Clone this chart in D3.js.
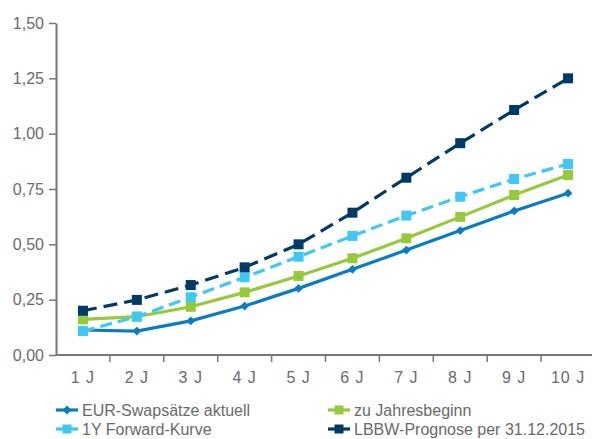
<!DOCTYPE html>
<html><head><meta charset="utf-8">
<script src="https://cdn.jsdelivr.net/npm/d3@7"></script>
<style>
html,body{margin:0;padding:0;background:#fff;}
svg{display:block;font-family:"Liberation Sans","Noto Sans",Arial,sans-serif;}
</style></head>
<body><svg id="c" width="592" height="439"></svg>
<script>
const categories = ["1 J","2 J","3 J","4 J","5 J","6 J","7 J","8 J","9 J","10 J"];
const eurSwap   = [0.113,0.108,0.154,0.221,0.301,0.387,0.474,0.562,0.651,0.731];
const jahresBeg = [0.161,0.173,0.218,0.283,0.357,0.437,0.527,0.624,0.723,0.813];
const forward1Y = [0.108,0.173,0.261,0.351,0.444,0.538,0.630,0.715,0.795,0.863];
const lbbw      = [0.200,0.249,0.316,0.396,0.500,0.643,0.801,0.957,1.107,1.250];
const yTicks = [0,0.25,0.5,0.75,1,1.25,1.5];

const series = [
  {name:"EUR-Swapsätze aktuell", values:eurSwap, color:"#0a7cc1", dash:null, marker:"diamond"},
  {name:"zu Jahresbeginn", values:jahresBeg, color:"#97c93d", dash:null, marker:"square"},
  {name:"1Y Forward-Kurve", values:forward1Y, color:"#3fc8f4", dash:"12,6", marker:"square"},
  {name:"LBBW-Prognose per 31.12.2015", values:lbbw, color:"#003b68", dash:"14,7", marker:"square"}
];

const svg = d3.select("#c");
const x = d3.scaleBand().domain(categories).range([56, 595]);
const y = d3.scaleLinear().domain([0,1.5]).range([355, 23]);
const fmt = d3.format(".2f");
const textColor = "#6a6a6a";
const fs = "16px";

// y axis
const ya = svg.append("g").attr("transform","translate(56,0)")
  .call(d3.axisLeft(y).tickValues(yTicks).tickSize(7).tickSizeOuter(0).tickPadding(5)
    .tickFormat(d=>fmt(d).replace(".",",")));
ya.select(".domain").attr("stroke","#777").attr("stroke-width",2);
ya.selectAll(".tick line").attr("stroke","#777").attr("stroke-width",1.5);
ya.selectAll("text").attr("fill",textColor).style("font-size",fs).attr("font-family",null);

// x axis
const xa = svg.append("g").attr("transform","translate(0,355)")
  .call(d3.axisBottom(x).tickSize(0).tickPadding(17));
xa.select(".domain").attr("stroke","#777").attr("stroke-width",2).attr("d","M56,0H592");
xa.selectAll("text").attr("fill",textColor).style("font-size",fs).attr("font-family",null)
  .style("letter-spacing","1px");
const bounds = categories.map(c=>x(c)+x.bandwidth()).slice(0,9);
xa.selectAll(".bt").data(bounds).enter().append("line")
  .attr("x1",d=>d).attr("x2",d=>d).attr("y1",0).attr("y2",7)
  .attr("stroke","#777").attr("stroke-width",1.5);

const cx = c => x(c) + x.bandwidth()/2;
const line = d3.line().x((d,i)=>cx(categories[i])).y(d=>y(d));

function drawMarker(g, type, color, px, py, s){
  if(type==="square"){
    g.append("rect").attr("x",px-s/2).attr("y",py-s/2).attr("width",s).attr("height",s).attr("fill",color);
  } else {
    const r = s*0.55;
    g.append("path").attr("d",`M${px},${py-r}L${px+r},${py}L${px},${py+r}L${px-r},${py}Z`).attr("fill",color);
  }
}

series.forEach(s=>{
  const g = svg.append("g");
  g.append("path").attr("d",line(s.values)).attr("fill","none")
    .attr("stroke",s.color).attr("stroke-width",3.2)
    .attr("stroke-dasharray",s.dash);
  s.values.forEach((v,i)=>drawMarker(g,s.marker,s.color,cx(categories[i]),y(v), s.marker==="square"?10:8));
});

// legend
const legPos = [[56,410],[328,410],[56,429],[328,429]];
const lg = svg.append("g");
series.forEach((s,k)=>{
  const p = legPos[k];
  const g = lg.append("g");
  g.append("line").attr("x1",p[0]).attr("x2",p[0]+22).attr("y1",p[1]).attr("y2",p[1])
    .attr("stroke",s.color).attr("stroke-width",3.2);
  drawMarker(g,s.marker,s.color,p[0]+11,p[1], s.marker==="square"?9:8);
  g.append("text").attr("x",p[0]+26).attr("y",p[1]).attr("dy","0.35em")
    .attr("fill",textColor).style("font-size",fs).text(s.name);
});
</script></body></html>
